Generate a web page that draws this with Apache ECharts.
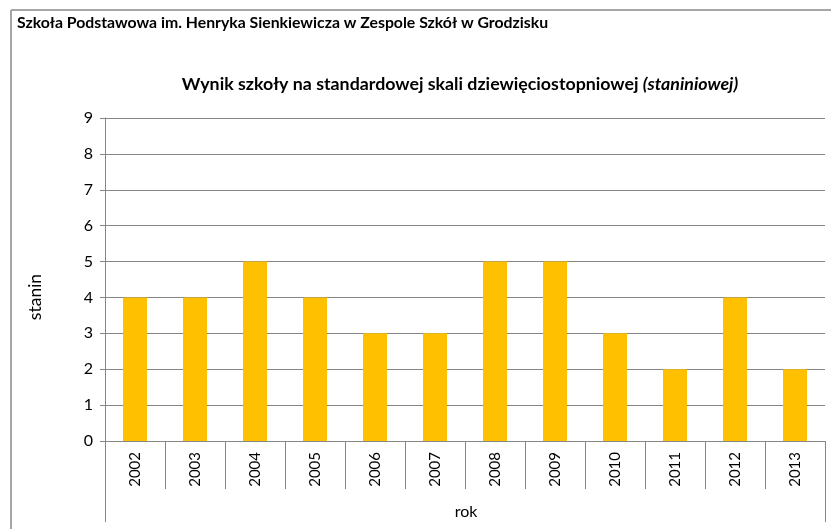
<!DOCTYPE html>
<html>
<head>
<meta charset="utf-8">
<script src="https://cdn.jsdelivr.net/npm/echarts@6/dist/echarts.min.js"></script>
<style>
  html, body { margin: 0; padding: 0; background: #fff; }
  #chart { width: 831px; height: 529px; }
</style>
</head>
<body>
<div id="chart"></div>
<script>
// lata i wyniki w skali staninowej
var years = ['2002', '2003', '2004', '2005', '2006', '2007', '2008', '2009', '2010', '2011', '2012', '2013']
var stanin = [4, 4, 5, 4, 3, 3, 5, 5, 3, 2, 4, 2]
var yTicks = [0, 1, 2, 3, 4, 5, 6, 7, 8, 9]

var font = 'Lato, "Open Sans", sans-serif'
var lineColor = '#868686'

var chart = echarts.init(document.getElementById('chart'))
chart.setOption({
  animation: false,
  textStyle: { fontFamily: font },
  title: [
    {
      text: 'Szkoła Podstawowa im. Henryka Sienkiewicza w Zespole Szkół w Grodzisku',
      left: 12,
      top: 10,
      textStyle: { fontSize: 15.8, fontWeight: 'bold', color: '#000', fontFamily: font }
    },
    {
      text: '{b|Wynik szkoły na standardowej skali dziewięciostopniowej }{i|(staniniowej)}',
      left: 455,
      textAlign: 'center',
      top: 70,
      textStyle: {
        rich: {
          b: { fontSize: 17.8, fontWeight: 'bold', color: '#000', fontFamily: font },
          i: { fontSize: 17.8, fontStyle: 'italic', color: '#000', fontFamily: font }
        }
      }
    }
  ],
  grid: { left: 105, right: 6, top: 118, bottom: 88, containLabel: false },
  xAxis: {
    type: 'category',
    data: years,
    boundaryGap: true,
    axisLine: { show: true, lineStyle: { color: lineColor, width: 1 } },
    axisTick: { show: true, interval: 0, length: 48, lineStyle: { color: lineColor } },
    axisLabel: { rotate: 90, margin: 11, fontSize: 15, color: '#000', interval: 0 }
  },
  yAxis: {
    type: 'value',
    min: yTicks[0],
    max: yTicks[yTicks.length - 1],
    interval: 1,
    axisLine: { show: true, lineStyle: { color: lineColor, width: 1 } },
    axisTick: { show: true, length: 5, lineStyle: { color: lineColor } },
    axisLabel: { fontSize: 16, color: '#000', margin: 12 },
    splitLine: { show: true, lineStyle: { color: lineColor, width: 1 } }
  },
  series: [
    {
      type: 'bar',
      data: stanin,
      barWidth: 24,
      itemStyle: { color: '#FFC000' }
    }
  ],
  graphic: [
    // ramka wykresu
    { type: 'line', shape: { x1: 11, y1: 10, x2: 831, y2: 10 }, style: { stroke: '#a6a6a6', lineWidth: 2 } },
    { type: 'line', shape: { x1: 11, y1: 10, x2: 11, y2: 529 }, style: { stroke: '#a6a6a6', lineWidth: 2 } },
    // ramka osi kategorii
    { type: 'line', shape: { x1: 105.5, y1: 441, x2: 105.5, y2: 522 }, style: { stroke: lineColor, lineWidth: 1 } },
    { type: 'line', shape: { x1: 825.5, y1: 441, x2: 825.5, y2: 522 }, style: { stroke: lineColor, lineWidth: 1 } },
    // nazwy osi
    {
      type: 'text', x: 35, y: 297, rotation: Math.PI / 2,
      style: { text: 'stanin', fontSize: 17.5, fontFamily: font, fill: '#000', align: 'center', verticalAlign: 'middle' }
    },
    {
      type: 'text', x: 466, y: 512,
      style: { text: 'rok', fontSize: 16, fontFamily: font, fill: '#000', align: 'center', verticalAlign: 'middle' }
    }
  ]
})
</script>
</body>
</html>
